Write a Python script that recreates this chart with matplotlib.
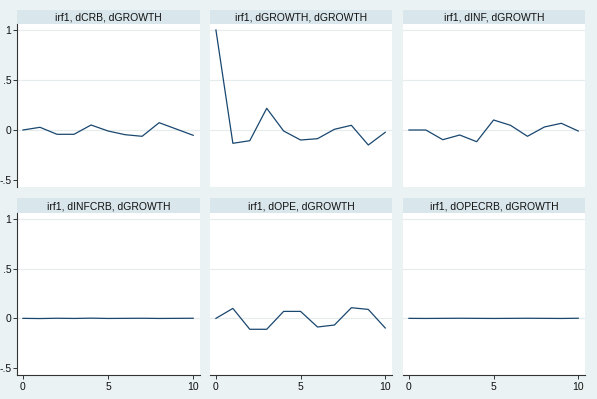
import numpy as np
import matplotlib.pyplot as plt

steps = list(range(11))
titles = ["irf1, dCRB, dGROWTH", "irf1, dGROWTH, dGROWTH", "irf1, dINF, dGROWTH",
          "irf1, dINFCRB, dGROWTH", "irf1, dOPE, dGROWTH", "irf1, dOPECRB, dGROWTH"]
irf_dcrb = [0, 0.027, -0.043, -0.043, 0.05, -0.01, -0.047, -0.063, 0.073, 0.01, -0.053]
irf_dgrowth = [1.0, -0.133, -0.107, 0.217, -0.01, -0.1, -0.087, 0.007, 0.047, -0.15, -0.023]
irf_dinf = [0, 0, -0.097, -0.05, -0.117, 0.1, 0.047, -0.063, 0.03, 0.067, -0.01]
irf_dinfcrb = [0, -0.002, 0.001, -0.001, 0.002, -0.001, 0.0, 0.001, -0.001, 0.0, 0.001]
irf_dope = [0, 0.1, -0.11, -0.11, 0.07, 0.07, -0.087, -0.067, 0.107, 0.09, -0.097]
irf_dopecrb = [0, -0.001, 0.0, 0.001, 0.0, -0.001, 0.0, 0.001, 0.0, -0.001, 0.001]
series = [irf_dcrb, irf_dgrowth, irf_dinf, irf_dinfcrb, irf_dope, irf_dopecrb]

W, H = 597, 399
bg = "#eaf2f3"
strip = "#d9e6eb"
navy = "#1a476f"

fig = plt.figure(figsize=(W / 100, H / 100), dpi=100, facecolor=bg)
plt.rcParams['font.family'] = ['Liberation Sans', 'DejaVu Sans']

cols = [(17, 200), (210, 392), (403, 585)]
rows = [(10, 24, 187), (198, 213, 375)]

for i, (title, y) in enumerate(zip(titles, series)):
    r, c = divmod(i, 3)
    x0, x1 = cols[c]
    s0, p0, p1 = rows[r]
    # title strip
    sa = fig.add_axes([x0 / W, 1 - p0 / H, (x1 - x0) / W, (p0 - s0) / H])
    sa.set_facecolor(strip)
    sa.set_xticks([]); sa.set_yticks([])
    for sp in sa.spines.values():
        sp.set_visible(False)
    sa.text(0.5, 0.45, title, ha="center", va="center", fontsize=7.5, color="#111111",
            transform=sa.transAxes)
    # plot region
    ax = fig.add_axes([x0 / W, 1 - p1 / H, (x1 - x0) / W, (p1 - p0) / H])
    ax.set_facecolor("white")
    ax.plot(steps, y, color=navy, lw=0.9)
    ax.set_xlim(-0.35, 10.4)
    ax.set_ylim(-0.57, 1.06)
    for g in [1, 0.5, 0]:
        ax.axhline(g, color="#e4eced", lw=0.8, zorder=0)
    for sp in ax.spines.values():
        sp.set_visible(False)
    if c == 0:
        ax.spines["left"].set_visible(True)
        ax.spines["left"].set_color("#333333")
        ax.spines["left"].set_linewidth(0.8)
        ax.set_yticks([-0.5, 0, 0.5, 1])
        ax.set_yticklabels(["-.5", "0", ".5", "1"])
    else:
        ax.set_yticks([])
    if r == 1:
        ax.spines["bottom"].set_visible(True)
        ax.spines["bottom"].set_color("#333333")
        ax.spines["bottom"].set_linewidth(0.8)
        ax.set_xticks([0, 5, 10])
    else:
        ax.set_xticks([])
    ax.tick_params(labelsize=7.5, length=3, width=0.7, color="#333333", pad=1, labelcolor="#111111")
    ax.tick_params(axis="x", pad=2)

plt.savefig("out.png", dpi=100, facecolor=bg)
